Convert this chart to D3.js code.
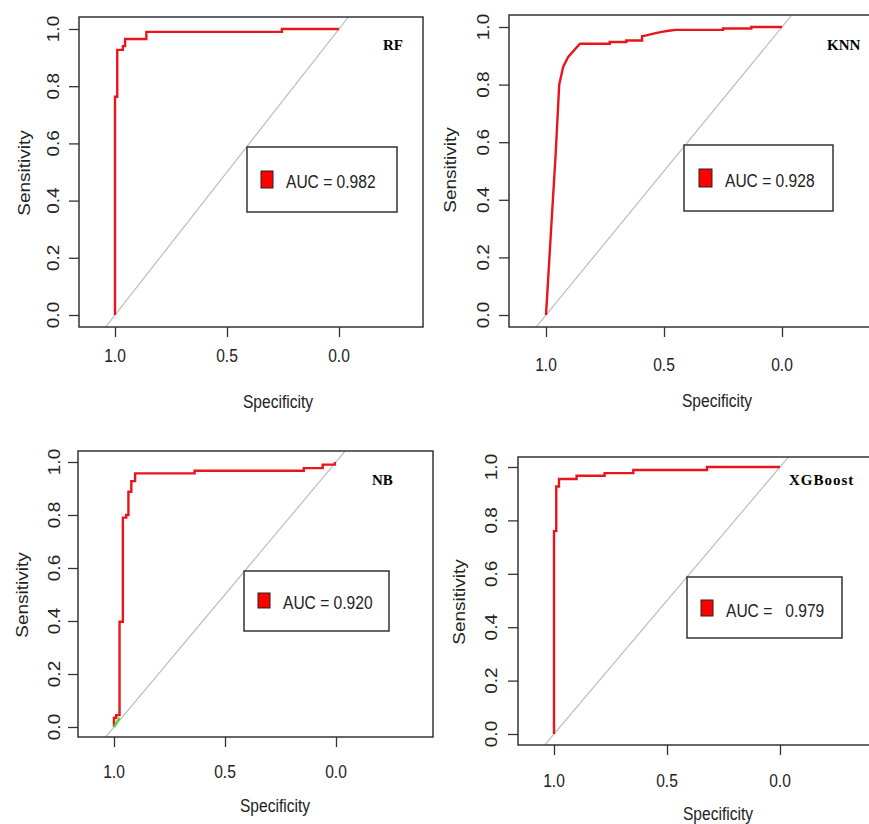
<!DOCTYPE html>
<html>
<head>
<meta charset="utf-8">
<script src="https://cdn.jsdelivr.net/npm/d3@7"></script>
<style>
  body { margin: 0; background: #fff; }
  svg { display: block; }
  .sans { font-family: "Liberation Sans", Arial, sans-serif; fill: #222; }
  .title { font-family: "Liberation Serif", "Times New Roman", serif; font-weight: bold; font-size: 15px; fill: #000; }
</style>
</head>
<body>
<div id="chart"></div>
<script>
// Four ROC curves (specificity reversed on x, sensitivity on y)

const W = 869;
const H = 824;
const FONT = 19;      // sans font size
const SQUEEZE = 0.82; // the source picture is squashed horizontally
const TICK = 10;

const models = ['RF', 'KNN', 'NB', 'XGBoost'];
const aucLabels = ['AUC = 0.982', 'AUC = 0.928', 'AUC = 0.920', 'AUC =   0.979'];
const xTicks = [1.0, 0.5, 0.0];
const yTicks = [0.0, 0.2, 0.4, 0.6, 0.8, 1.0];

// curve points
const rfSpec = [1, 1, 0.99, 0.99, 0.965, 0.965, 0.955, 0.955, 0.86, 0.86, 0.255, 0.255, 0];
const rfSens = [0, 0.763, 0.763, 0.927, 0.927, 0.94, 0.94, 0.965, 0.965, 0.99, 0.99, 1, 1];

const knnSpec = [1, 0.976, 0.959, 0.944, 0.927, 0.906, 0.856, 0.73, 0.73, 0.66, 0.66, 0.593, 0.593, 0.575, 0.54, 0.51, 0.48, 0.45, 0.25, 0.25, 0.13, 0.13, 0];
const knnSens = [0, 0.33, 0.56, 0.80, 0.862, 0.896, 0.942, 0.942, 0.948, 0.948, 0.953, 0.953, 0.968, 0.971, 0.978, 0.983, 0.987, 0.99, 0.99, 0.995, 0.995, 1, 1];

const nbSpec = [1, 1, 0.99, 0.99, 0.975, 0.975, 0.96, 0.96, 0.945, 0.945, 0.935, 0.935, 0.922, 0.922, 0.905, 0.905, 0.637, 0.637, 0.145, 0.145, 0.06, 0.06, 0.005, 0.005];
const nbSens = [0, 0.035, 0.035, 0.045, 0.045, 0.397, 0.397, 0.79, 0.79, 0.80, 0.80, 0.888, 0.888, 0.928, 0.928, 0.957, 0.957, 0.967, 0.967, 0.977, 0.977, 0.99, 0.99, 1];
const nbGreenSpec = [1, 0.985, 0.975];
const nbGreenSens = [0, 0.02, 0.035];

const xgbSpec = [1, 1, 0.99, 0.99, 0.978, 0.978, 0.9, 0.9, 0.776, 0.776, 0.649, 0.649, 0.323, 0.323, 0];
const xgbSens = [0, 0.76, 0.76, 0.927, 0.927, 0.955, 0.955, 0.967, 0.967, 0.977, 0.977, 0.989, 0.989, 1, 1];

const curves = [
  [rfSpec, rfSens],
  [knnSpec, knnSens],
  [nbSpec, nbSens],
  [xgbSpec, xgbSens]
];

// pixel layout of each panel
const layouts = [
  { box: [79, 17, 423, 327], x: [115, 339], y: [315, 29], yLab: 59, sens: [30, 173], xLab: 362, spec: [278, 408],
    leg: [247, 147, 397, 212], sq: [261, 171, 12, 17], txt: [286, 188], title: [383, 50], ls: 0 },
  { box: [509, 15, 875, 327], x: [546, 782], y: [315, 27], yLab: 489, sens: [456, 170], xLab: 371, spec: [717, 407],
    leg: [684, 145, 833, 211], sq: [699, 169, 13, 18], txt: [725, 187], title: [827, 50], ls: 0 },
  { box: [78, 451, 433, 737], x: [114, 336], y: [727, 462], yLab: 60, sens: [28, 595], xLab: 778, spec: [275, 812],
    leg: [244, 571, 389, 631], sq: [258, 593, 12, 15], txt: [283, 609], title: [372, 485], ls: 0 },
  { box: [518, 457, 875, 745], x: [554, 780], y: [734, 467], yLab: 497, sens: [465, 602], xLab: 787, spec: [718, 820],
    leg: [687, 577, 842, 638], sq: [701, 600, 12, 16], txt: [726, 617], title: [789, 485], ls: 1 }
];

const svg = d3.select('#chart')
  .append('svg')
  .attr('width', W)
  .attr('height', H);

svg.append('rect').attr('width', W).attr('height', H).attr('fill', '#fff');

// squeezed sans text at (x, y), optionally rotated
function sansText(g, x, y, str, anchor, rotate) {
  return g.append('text')
    .attr('class', 'sans')
    .attr('transform', `translate(${x},${y}) scale(${SQUEEZE},1)` + (rotate ? ' rotate(-90)' : ''))
    .attr('text-anchor', anchor)
    .style('font-size', FONT + 'px')
    .style('white-space', 'pre')
    .text(str);
}

function drawPanel(i) {
  const L = layouts[i];
  const [bx0, by0, bx1, by1] = L.box;
  const g = svg.append('g');

  const x = d3.scaleLinear().domain([1, 0]).range(L.x);
  const y = d3.scaleLinear().domain([0, 1]).range(L.y);

  const clipId = `clip-${i}`;
  svg.append('clipPath').attr('id', clipId)
    .append('rect')
    .attr('x', bx0).attr('y', by0)
    .attr('width', bx1 - bx0).attr('height', by1 - by0);

  // chance diagonal, clipped to the box
  const s0 = x.invert(bx0), s1 = x.invert(bx1);
  g.append('line')
    .attr('clip-path', `url(#${clipId})`)
    .attr('x1', x(s0)).attr('y1', y(1 - s0))
    .attr('x2', x(s1)).attr('y2', y(1 - s1))
    .attr('stroke', '#bdbdbd')
    .attr('stroke-width', 1.2);

  const line = d3.line()
    .x(d => x(d[0]))
    .y(d => y(d[1]));

  const [spec, sens] = curves[i];
  g.append('path')
    .datum(spec.map((s, k) => [s, sens[k]]))
    .attr('d', line)
    .attr('fill', 'none')
    .attr('stroke', '#e8161c')
    .attr('stroke-width', 2.4)
    .attr('stroke-linejoin', 'miter');

  if (i === 2) {
    g.append('path')
      .datum(nbGreenSpec.map((s, k) => [s, nbGreenSens[k]]))
      .attr('d', line)
      .attr('fill', 'none')
      .attr('stroke', '#52d640')
      .attr('stroke-width', 2.4);
  }

  // box
  g.append('rect')
    .attr('x', bx0).attr('y', by0)
    .attr('width', bx1 - bx0).attr('height', by1 - by0)
    .attr('fill', 'none')
    .attr('stroke', '#333')
    .attr('stroke-width', 1.5);

  // y axis
  const yAxis = d3.axisLeft(y).tickValues(yTicks).tickSize(TICK).tickFormat('');
  const ya = g.append('g').attr('transform', `translate(${bx0},0)`).call(yAxis);
  ya.select('.domain').remove();
  ya.selectAll('line').attr('stroke', '#333').attr('stroke-width', 1.3);
  yTicks.forEach(t => sansText(g, L.yLab, y(t), d3.format('.1f')(t), 'middle', true));

  // x axis
  const xAxis = d3.axisBottom(x).tickValues(xTicks).tickSize(TICK).tickFormat('');
  const xa = g.append('g').attr('transform', `translate(0,${by1})`).call(xAxis);
  xa.select('.domain').remove();
  xa.selectAll('line').attr('stroke', '#333').attr('stroke-width', 1.3);
  xTicks.forEach(t => sansText(g, x(t), L.xLab, d3.format('.1f')(t), 'middle', false));

  sansText(g, L.sens[0], L.sens[1], 'Sensitivity', 'middle', true);
  sansText(g, L.spec[0], L.spec[1], 'Specificity', 'middle', false);

  // legend
  const [lx0, ly0, lx1, ly1] = L.leg;
  g.append('rect')
    .attr('x', lx0).attr('y', ly0)
    .attr('width', lx1 - lx0).attr('height', ly1 - ly0)
    .attr('fill', '#fff')
    .attr('stroke', '#333')
    .attr('stroke-width', 1.5);
  g.append('rect')
    .attr('x', L.sq[0]).attr('y', L.sq[1])
    .attr('width', L.sq[2]).attr('height', L.sq[3])
    .attr('fill', '#f00')
    .attr('stroke', '#222')
    .attr('stroke-width', 1);
  sansText(g, L.txt[0], L.txt[1], aucLabels[i], 'start', false);

  // model name
  g.append('text')
    .attr('class', 'title')
    .attr('x', L.title[0]).attr('y', L.title[1])
    .style('letter-spacing', L.ls + 'px')
    .text(models[i]);
}

models.forEach((m, i) => drawPanel(i));
</script>
</body>
</html>
